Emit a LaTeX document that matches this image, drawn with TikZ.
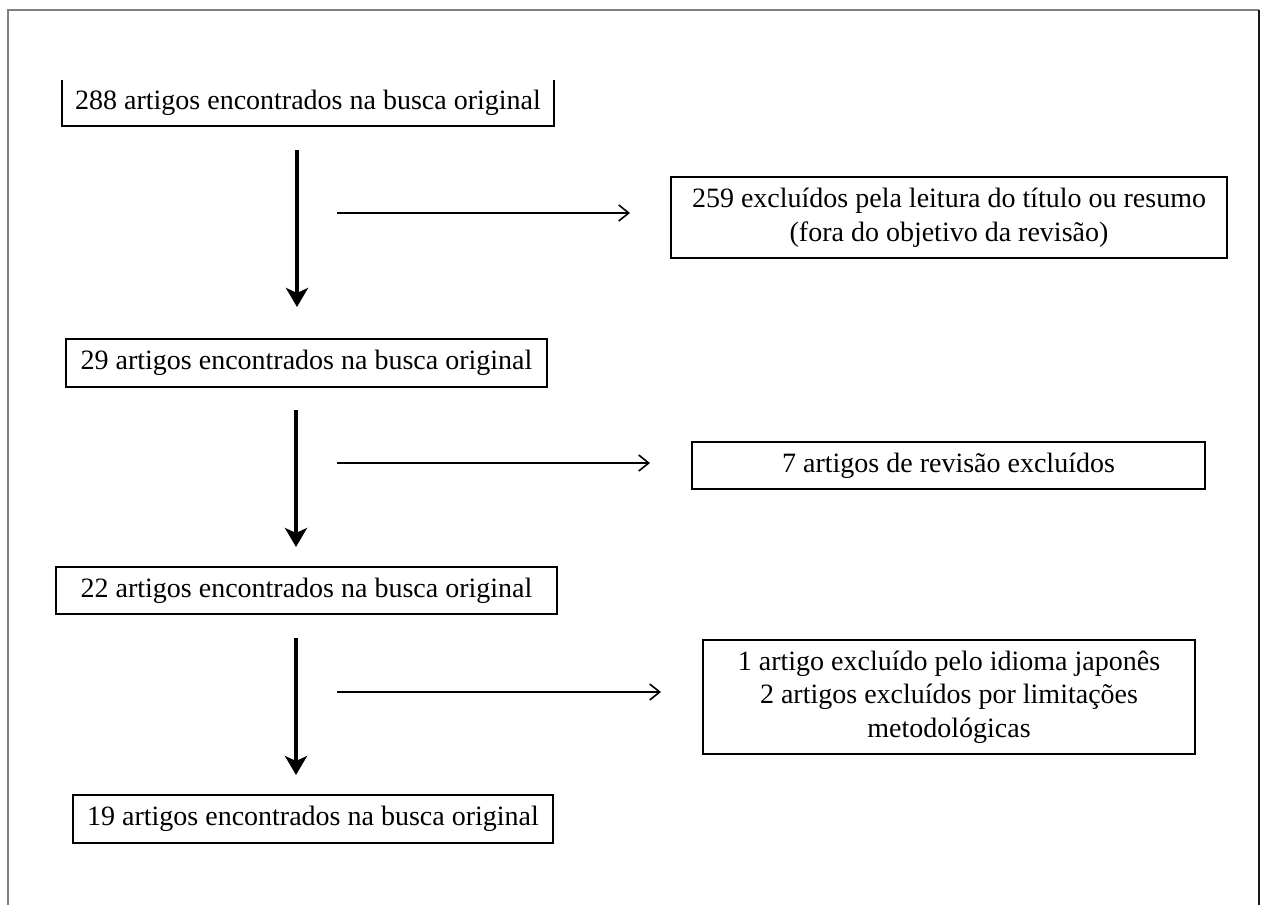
\documentclass[tikz,border=0pt]{standalone}
\usepackage{fontspec}
\setmainfont{Liberation Serif}
\usetikzlibrary{arrows.meta, positioning}

\begin{document}
\begin{tikzpicture}[x=0.5pt, y=-0.5pt,
    box/.style={draw, line width=1.3pt, inner sep=0pt, outer sep=0pt, align=center,
        font=\fontsize{14pt}{16.75pt}\selectfont},
    down/.style={line width=2pt, -{Stealth[length=9.5pt, width=11pt, inset=2.5pt]}},
    aside/.style={line width=0.8pt, -{Straight Barb[length=5pt, width=8pt]}}]
    \useasboundingbox (0,0) rectangle (1263,905);

    % outer frame
    \draw[black!50, line width=1pt] (8,905) -- (8,10) -- (1259,10);
    \draw[black!90, line width=1pt] (1259,10) -- (1259,905);

    % main column
    \node[box, draw=none, minimum width=246pt, minimum height=23pt] (Step 0) at (308,103) {288 artigos encontrados na busca original};
    \draw[line width=1.3pt] (Step 0.north west) -- (Step 0.south west) -- (Step 0.south east) -- (Step 0.north east);
    \node[box, minimum width=240.5pt, minimum height=24pt]   (Step 1) at (306.5,363) {29 artigos encontrados na busca original};
    \node[box, minimum width=250.5pt, minimum height=23.5pt] (Step 2) at (306.5,590.5) {22 artigos encontrados na busca original};
    \node[box, minimum width=240pt, minimum height=24pt]     (Step 3) at (313,819) {19 artigos encontrados na busca original};

    % exclusions
    \node[box, minimum width=278pt, minimum height=40.5pt] (Excluded 1) at (949,217.5) {259 excluídos pela leitura do título ou resumo\\(fora do objetivo da revisão)};
    \node[box, minimum width=256.5pt, minimum height=23.5pt] (Excluded 2) at (948.5,465.5) {7 artigos de revisão excluídos};
    \node[box, minimum width=246pt, minimum height=57pt]     (Excluded 3) at (949,697) {1 artigo excluído pelo idioma japonês\\2 artigos excluídos por limitações\\metodológicas};

    % arrow ends
    \coordinate (Down 1 top) at (297,150);  \coordinate (Down 1 tip) at (297,307);
    \coordinate (Down 2 top) at (296,410);  \coordinate (Down 2 tip) at (296,547);
    \coordinate (Down 3 top) at (296,638);  \coordinate (Down 3 tip) at (296,775);
    \coordinate (Out 1 start) at (337,213); \coordinate (Out 1 tip) at (630,213);
    \coordinate (Out 2 start) at (337,463); \coordinate (Out 2 tip) at (650,463);
    \coordinate (Out 3 start) at (337,692); \coordinate (Out 3 tip) at (661,692);

    \draw[down] (Down 1 top) -- (Down 1 tip);
    \draw[down] (Down 2 top) -- (Down 2 tip);
    \draw[down] (Down 3 top) -- (Down 3 tip);
    \draw[aside] (Out 1 start) -- (Out 1 tip);
    \draw[aside] (Out 2 start) -- (Out 2 tip);
    \draw[aside] (Out 3 start) -- (Out 3 tip);
\end{tikzpicture}
\end{document}
